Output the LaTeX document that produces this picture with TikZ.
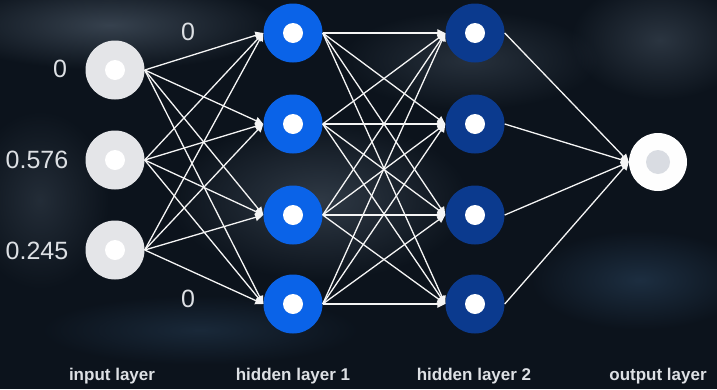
\documentclass[tikz,border=0pt]{standalone}
\usepackage{fontspec}
\setmainfont{Liberation Sans}
\usetikzlibrary{arrows.meta,fadings}
\definecolor{bg}{HTML}{0C131C}
\definecolor{cloud}{HTML}{5A6878}
\definecolor{cloudb}{HTML}{2E4A66}
\definecolor{ingray}{HTML}{E4E5E8}
\definecolor{hblue}{HTML}{0A63E8}
\definecolor{hdark}{HTML}{0B3A8E}
\definecolor{outdot}{HTML}{D9DCE2}
\definecolor{txt}{HTML}{DDE0E4}
\tikzfading[name=softcloud, inner color=transparent!0, outer color=transparent!100]
\tikzset{
  neuron/.style={circle, minimum size=59pt, inner sep=0pt, draw=none},
  dotwhite/.style={path picture={\fill[white] (path picture bounding box.center) circle (10pt);}},
  inl/.style={neuron, fill=ingray, dotwhite},
  hidA/.style={neuron, fill=hblue, dotwhite},
  hidB/.style={neuron, fill=hdark, dotwhite},
  outl/.style={neuron, minimum size=58pt, fill=white!97!ingray,
     path picture={\fill[outdot] (path picture bounding box.center) circle (12pt);}},
  conn/.style={draw=white!92!gray, line width=1.3pt, -{Triangle[length=8pt,width=7.5pt]}},
  num/.style={text=txt, font=\fontsize{25}{28}\selectfont, inner sep=0pt},
  laycap/.style={text=txt, font=\bfseries\fontsize{17}{20}\selectfont, inner sep=0pt},
  cloudy/.style={fill=#1, path fading=softcloud}
}
\begin{document}
\begin{tikzpicture}[x=1pt,y=-1pt]
\useasboundingbox (0,0) rectangle (717,389);
\fill[bg] (0,0) rectangle (717,389);
% background clouds
\fill[cloudy=cloud, opacity=0.55] (110,25) ellipse (170 and 45);
\fill[cloudy=cloud, opacity=0.45] (320,200) ellipse (150 and 80);
\fill[cloudy=cloud, opacity=0.35] (470,60) ellipse (130 and 50);
\fill[cloudy=cloud, opacity=0.4] (660,40) ellipse (90 and 60);
\fill[cloudy=cloudb, opacity=0.5] (640,280) ellipse (110 and 50);
\fill[cloudy=cloudb, opacity=0.4] (200,330) ellipse (160 and 35);
\fill[cloudy=cloud, opacity=0.3] (40,200) ellipse (70 and 90);
% nodes
\node[inl] (i1) at (115,70) {};
\node[inl] (i2) at (115,160) {};
\node[inl] (i3) at (115,250) {};
\node[hidA] (h1) at (293,33) {};
\node[hidA] (h2) at (293,124) {};
\node[hidA] (h3) at (293,215) {};
\node[hidA] (h4) at (293,304) {};
\node[hidB] (g1) at (475,33) {};
\node[hidB] (g2) at (475,124) {};
\node[hidB] (g3) at (475,215) {};
\node[hidB] (g4) at (475,304) {};
\node[outl] (o) at (658,162) {};
% connectors
\foreach \a in {i1,i2,i3}
  \foreach \b in {h1,h2,h3,h4}
    \draw[conn] (\a.east) -- (\b.west);
\foreach \a in {h1,h2,h3,h4}
  \foreach \b in {g1,g2,g3,g4}
    \draw[conn] (\a.east) -- (\b.west);
\foreach \a in {g1,g2,g3,g4}
  \draw[conn] (\a.east) -- (o.west);
% value labels
\node[num] (v1) at (60,69) {0};
\node[num] (v2) at (37,160) {0.576};
\node[num] (v3) at (37,251) {0.245};
\node[num] (v4) at (188,32) {0};
\node[num] (v5) at (188,299) {0};
% layer captions
\node[laycap] (c1) at (112,376) {input layer};
\node[laycap] (c2) at (293,376) {hidden layer 1};
\node[laycap] (c3) at (474,376) {hidden layer 2};
\node[laycap] (c4) at (658,376) {output layer};
\end{tikzpicture}
\end{document}
